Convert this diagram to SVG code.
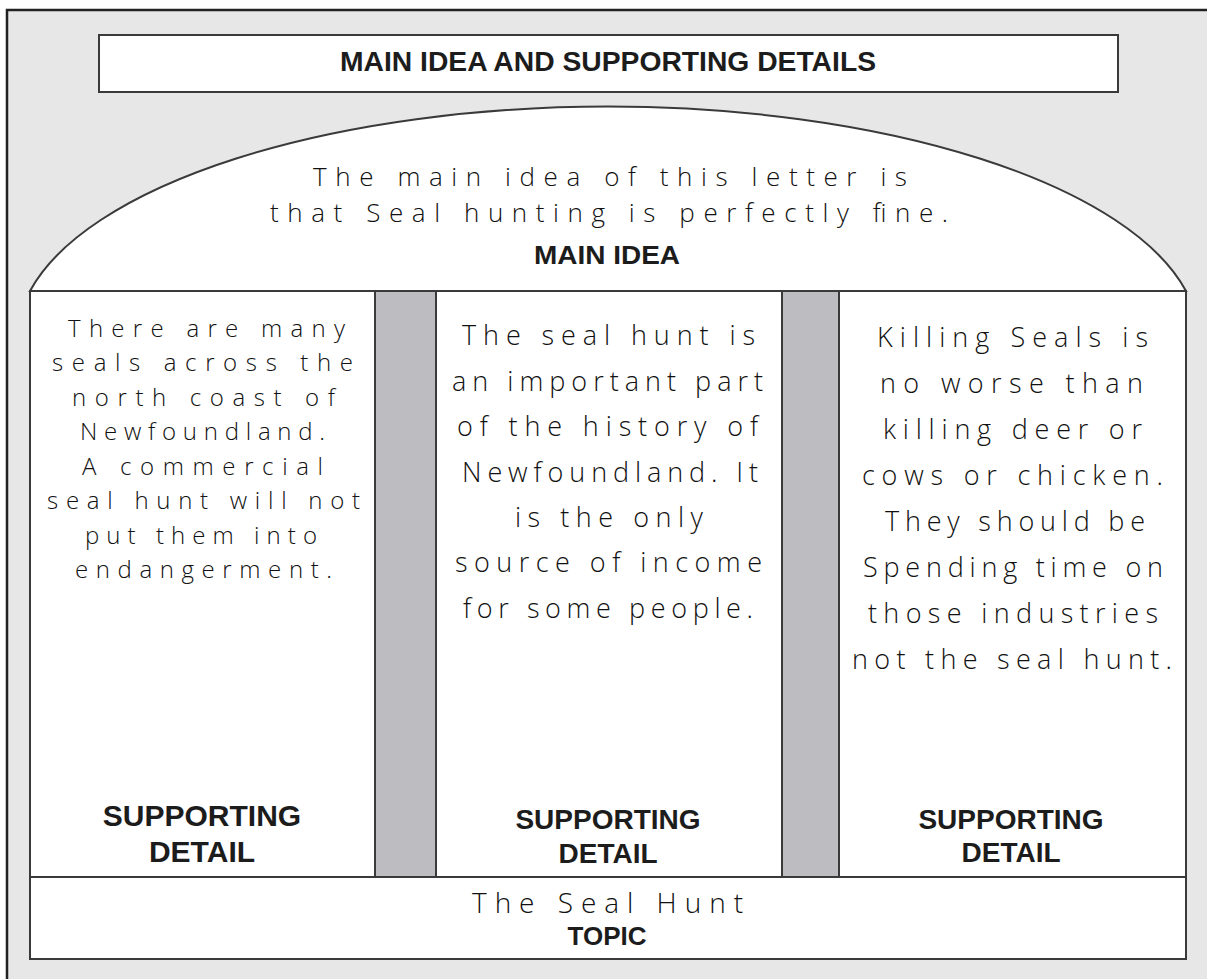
<svg xmlns="http://www.w3.org/2000/svg" width="1207" height="979" viewBox="0 0 1207 979">
<style>
.frame{fill:#e7e7e7;stroke:#222;stroke-width:2.5}
.box{fill:#fff;stroke:#3a3a3a;stroke-width:2}
.bar{fill:#bdbdc1;stroke:#3a3a3a;stroke-width:2}
.lbl{font-family:"Liberation Sans",Arial,sans-serif;font-weight:bold;fill:#1c1c1c;text-anchor:middle}
.hw{font-family:"Open Sans","DejaVu Sans",sans-serif;font-weight:300;fill:#111}
</style>
<rect class="frame" x="7" y="10" width="1215" height="985"/>
<g id="title">
<rect class="box" x="99" y="35" width="1019" height="57"/>
<text class="lbl" x="608" y="71" font-size="27" textLength="536" lengthAdjust="spacingAndGlyphs">MAIN IDEA AND SUPPORTING DETAILS</text>
</g>
<g id="main-idea">
<path class="box" d="M30,291 A591,233 0 0 1 1186,291 Z"/>
<text class="hw" font-size="26" x="313" y="186" textLength="594" lengthAdjust="spacing">The main idea of this letter is</text>
<text class="hw" font-size="26" x="270" y="222" textLength="678" lengthAdjust="spacing">that Seal hunting is perfectly fine.</text>
<text class="lbl" x="607" y="264" font-size="26" textLength="146" lengthAdjust="spacingAndGlyphs">MAIN IDEA</text>
</g>
<g id="bars">
<rect class="bar" x="375" y="291" width="61" height="586"/>
<rect class="bar" x="782" y="291" width="57" height="586"/>
</g>
<g id="detail-1">
<rect class="box" x="30" y="291" width="345" height="586"/>
<g class="hw" font-size="24">
<text x="68" y="337" textLength="277" lengthAdjust="spacing">There are many</text>
<text x="52" y="371" textLength="301" lengthAdjust="spacing">seals across the</text>
<text x="72" y="406" textLength="263" lengthAdjust="spacing">north coast of</text>
<text x="80" y="440" textLength="245" lengthAdjust="spacing">Newfoundland.</text>
<text x="82" y="475" textLength="241" lengthAdjust="spacing">A commercial</text>
<text x="47" y="509" textLength="313" lengthAdjust="spacing">seal hunt will not</text>
<text x="85" y="544" textLength="232" lengthAdjust="spacing">put them into</text>
<text x="75" y="578" textLength="257" lengthAdjust="spacing">endangerment.</text>
</g>
<text class="lbl" x="202" y="826" font-size="30">SUPPORTING</text>
<text class="lbl" x="202" y="862" font-size="30">DETAIL</text>
</g>
<g id="detail-2">
<rect class="box" x="436" y="291" width="346" height="586"/>
<g class="hw" font-size="27">
<text x="462" y="345" textLength="293" lengthAdjust="spacing">The seal hunt is</text>
<text x="452" y="391" textLength="311" lengthAdjust="spacing">an important part</text>
<text x="457" y="436" textLength="301" lengthAdjust="spacing">of the history of</text>
<text x="462" y="482" textLength="296" lengthAdjust="spacing">Newfoundland. It</text>
<text x="515" y="527" textLength="188" lengthAdjust="spacing">is the only</text>
<text x="455" y="572" textLength="307" lengthAdjust="spacing">source of income</text>
<text x="463" y="618" textLength="290" lengthAdjust="spacing">for some people.</text>
</g>
<text class="lbl" x="608" y="829" font-size="28">SUPPORTING</text>
<text class="lbl" x="608" y="863" font-size="28">DETAIL</text>
</g>
<g id="detail-3">
<rect class="box" x="839" y="291" width="347" height="586"/>
<g class="hw" font-size="27">
<text x="877" y="347" textLength="271" lengthAdjust="spacing">Killing Seals is</text>
<text x="880" y="393" textLength="263" lengthAdjust="spacing">no worse than</text>
<text x="883" y="439" textLength="259" lengthAdjust="spacing">killing deer or</text>
<text x="862" y="485" textLength="301" lengthAdjust="spacing">cows or chicken.</text>
<text x="885" y="531" textLength="260" lengthAdjust="spacing">They should be</text>
<text x="863" y="577" textLength="300" lengthAdjust="spacing">Spending time on</text>
<text x="868" y="623" textLength="290" lengthAdjust="spacing">those industries</text>
<text x="852" y="669" textLength="320" lengthAdjust="spacing">not the seal hunt.</text>
</g>
<text class="lbl" x="1011" y="829" font-size="28">SUPPORTING</text>
<text class="lbl" x="1011" y="862" font-size="28">DETAIL</text>
</g>
<g id="topic">
<rect class="box" x="30" y="877" width="1156" height="82"/>
<text class="hw" font-size="28" x="472" y="913" textLength="271" lengthAdjust="spacing">The Seal Hunt</text>
<text class="lbl" x="607" y="945" font-size="26">TOPIC</text>
</g>
</svg>
